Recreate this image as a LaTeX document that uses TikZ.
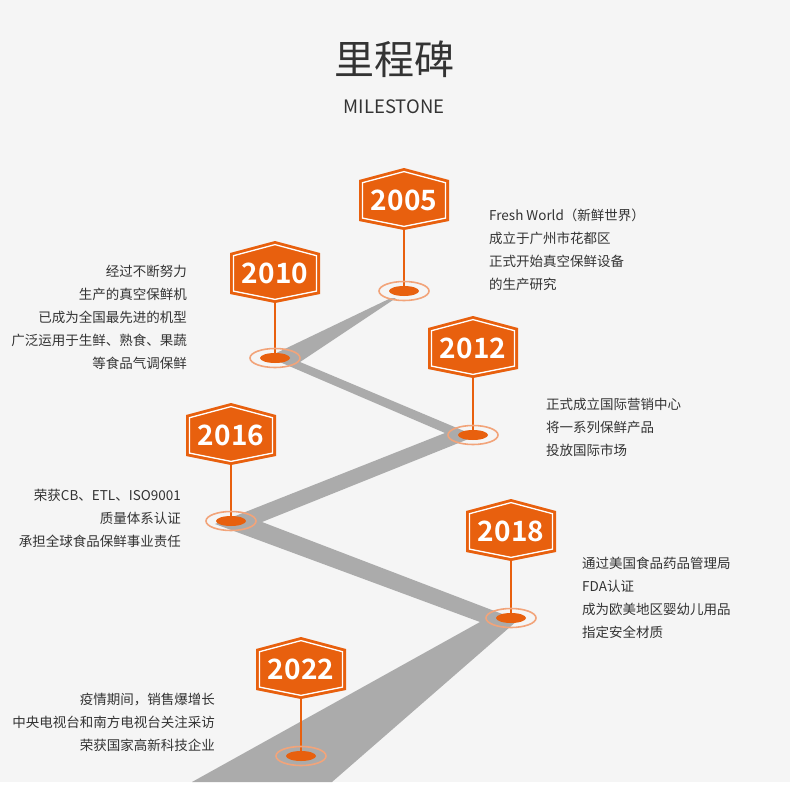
\documentclass[tikz,border=0pt]{standalone}
\usepackage{fontspec}
\setmainfont{Noto Sans CJK SC}[BoldFont=* Bold]
\usetikzlibrary{positioning}

\definecolor{milestone}{HTML}{E8600E}
\definecolor{ringorange}{HTML}{F2A47A}
\definecolor{roadgray}{HTML}{ABABAB}
\definecolor{inkgray}{HTML}{333333}
\definecolor{paper}{HTML}{F5F5F5}

% badge: name, x, y, year
\newcommand{\yearbadge}[4]{%
  \begin{scope}[shift={(#2,#3)}]
    \fill[milestone] (0,-31) -- (45,-19) -- (45,22) -- (0,31) -- (-45,22) -- (-45,-19) -- cycle;
    \draw[white, line width=1.3pt, line join=miter]
      (0,-27.4) -- (41.5,-16.3) -- (41.5,19.1) -- (0,27.4) -- (-41.5,19.1) -- (-41.5,-16.3) -- cycle;
  \end{scope}
  \node[yeartext] (#1) at (#2,#3+1) {#4};
  \coordinate (#1-tip) at (#2,#3+31);
}

\begin{document}
\begin{tikzpicture}[
    x=1pt, y=-1pt,
    yeartext/.style={font=\fontsize{28}{28}\selectfont\bfseries, text=white, inner sep=0pt},
    desc/.style={font=\fontsize{13.5}{23}\selectfont, text=inkgray, inner sep=0pt},
    stem/.style={draw=milestone, line width=1.4pt},
    ring/.style={draw=ringorange, line width=1.6pt},
]
    \useasboundingbox (0,0) rectangle (790,792);
    \fill[paper] (0,0) rectangle (790,792);
    \fill[white] (0,782) rectangle (790,792);

    \node[font=\fontsize{40}{40}\selectfont, text=inkgray, inner sep=0pt] (title) at (394,59) {里程碑};
    \node[font=\fontsize{18.5}{18.5}\selectfont, text=inkgray, inner sep=0pt] (subtitle) at (394,107) {MILESTONE};

    % road
    \fill[roadgray] (391,298) -- (268,357) -- (445,433) -- (215,524) -- (480,622) -- (192,782)
        -- (332,782) -- (518,620) -- (262,522) -- (476,436) -- (300,362) -- (396,298) -- cycle;

    \coordinate (m2005) at (404,291);
    \coordinate (m2010) at (275,358);
    \coordinate (m2012) at (473,435);
    \coordinate (m2016) at (231,521);
    \coordinate (m2018) at (511,618);
    \coordinate (m2022) at (301,756);

    \yearbadge{y2005}{404}{199}{2005}
    \yearbadge{y2010}{275}{272}{2010}
    \yearbadge{y2012}{473}{347}{2012}
    \yearbadge{y2016}{231}{434}{2016}
    \yearbadge{y2018}{511}{530}{2018}
    \yearbadge{y2022}{301}{668}{2022}

    \draw[stem] (y2005-tip) -- (m2005);
    \draw[stem] (y2010-tip) -- (m2010);
    \draw[stem] (y2012-tip) -- (m2012);
    \draw[stem] (y2016-tip) -- (m2016);
    \draw[stem] (y2018-tip) -- (m2018);
    \draw[stem] (y2022-tip) -- (m2022);

    \foreach \m in {m2005,m2010,m2012,m2016,m2018,m2022}{
        \draw[ring] (\m) ellipse [x radius=25pt, y radius=9.5pt];
        \fill[milestone] (\m) ellipse [x radius=15pt, y radius=5pt];
    }

    \node[desc, align=left, anchor=west] (t2005) at (489,250)
        {Fresh World（新鲜世界）\\成立于广州市花都区\\正式开始真空保鲜设备\\的生产研究};
    \node[desc, align=right, anchor=east] (t2010) at (187,317.5)
        {经过不断努力\\生产的真空保鲜机\\已成为全国最先进的机型\\广泛运用于生鲜、熟食、果蔬\\等食品气调保鲜};
    \node[desc, align=left, anchor=west] (t2012) at (546,427)
        {正式成立国际营销中心\\将一系列保鲜产品\\投放国际市场};
    \node[desc, align=right, anchor=east] (t2016) at (181,518)
        {荣获CB、ETL、ISO9001\\质量体系认证\\承担全球食品保鲜事业责任};
    \node[desc, align=left, anchor=west] (t2018) at (582,597.5)
        {通过美国食品药品管理局\\FDA认证\\成为欧美地区婴幼儿用品\\指定安全材质};
    \node[desc, align=right, anchor=east] (t2022) at (215,722)
        {疫情期间，销售爆增长\\中央电视台和南方电视台关注采访\\荣获国家高新科技企业};
\end{tikzpicture}
\end{document}
